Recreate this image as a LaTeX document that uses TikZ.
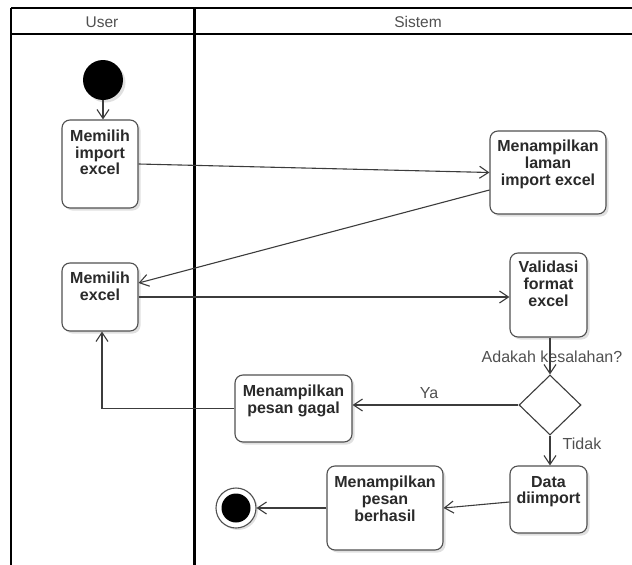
\documentclass[tikz,border=0pt]{standalone}
\usepackage{fontspec}
\setmainfont{Liberation Sans}
\usetikzlibrary{arrows.meta,shapes.geometric,shadows}
\definecolor{ln}{HTML}{3C3C3C}
\definecolor{bx}{HTML}{505050}
\definecolor{txt}{HTML}{2A2A2A}
\definecolor{lbl}{HTML}{505050}
\begin{document}
\begin{tikzpicture}[x=1pt,y=-1pt,
  frame/.style={draw=black,line width=2.4pt},
  lane/.style={font=\fontsize{15.5}{16.5}\selectfont,text=lbl,inner sep=0pt},
  actbox/.style={draw=bx,line width=1.1pt,rounded corners=8pt,fill=white,inner sep=0pt,
    drop shadow={shadow xshift=2.5pt,shadow yshift=-2.5pt,opacity=0.12,fill=black}},
  acttext/.style={font=\fontsize{16}{16.8}\selectfont\bfseries,text=txt,align=center,inner sep=0pt,anchor=north},
  guard/.style={font=\fontsize{16}{17}\selectfont,text=lbl,inner sep=0pt},
  arr/.style={draw=ln,line width=1.1pt,-{Straight Barb[length=9pt,width=12pt]}}
]
\useasboundingbox (0,0) rectangle (632,565);
% frame
\draw[frame] (11,8) -- (632,8);
\draw[draw=black,line width=2pt] (11,34) -- (632,34);
\draw[draw=black,line width=2pt] (11,8) -- (11,565);
\draw[draw=black,line width=3pt] (194,8) -- (194,565);
\node[lane] (hUser) at (102,22) {User};
\node[lane] (hSis) at (418,22) {Sistem};

% start
\node[circle,fill=black,minimum size=40pt,inner sep=0pt,
  drop shadow={shadow xshift=2.5pt,shadow yshift=-2.5pt,opacity=0.12,fill=black}] (start) at (103,80) {};

% activities
\node[actbox,minimum width=76pt,minimum height=88pt] (mie) at (100,164) {};
\node[acttext] (mieT) at ([yshift=-10pt]mie.north) {Memilih\\import\\excel};

\node[actbox,minimum width=116pt,minimum height=83pt] (laman) at (548,172.5) {};
\node[acttext] (lamanT) at ([yshift=-9.5pt]laman.north) {Menampilkan\\laman\\import excel};

\node[actbox,minimum width=76pt,minimum height=68pt] (me) at (100,297) {};
\node[acttext] (meT) at ([yshift=-9.5pt]me.north) {Memilih\\excel};

\node[actbox,minimum width=77pt,minimum height=84pt] (val) at (548.5,295) {};
\node[acttext] (valT) at ([yshift=-8.5pt]val.north) {Validasi\\format\\excel};

\node[draw=ln,line width=1.1pt,diamond,minimum width=62pt,minimum height=60pt,inner sep=0pt,fill=white] (dia) at (550,405) {};

\node[actbox,minimum width=117pt,minimum height=67pt] (gagal) at (293.5,408.5) {};
\node[acttext] (gagalT) at ([yshift=-10.5pt]gagal.north) {Menampilkan\\pesan gagal};

\node[actbox,minimum width=77pt,minimum height=67pt] (data) at (548.5,499.5) {};
\node[acttext] (dataT) at ([yshift=-10.5pt]data.north) {Data\\diimport};

\node[actbox,minimum width=116pt,minimum height=84pt] (berhasil) at (385,508) {};
\node[acttext] (berhasilT) at ([yshift=-10.5pt]berhasil.north) {Menampilkan\\pesan\\berhasil};

% end
\node[circle,draw=bx,line width=1.1pt,fill=white,minimum size=40pt,inner sep=0pt,
  drop shadow={shadow xshift=2pt,shadow yshift=-2pt,opacity=0.12,fill=black}] (end) at (236,508) {};
\node[circle,fill=black,minimum size=29pt,inner sep=0pt] (endIn) at (end.center) {};

% guard labels
\node[guard] (gAda) at (552,357) {Adakah kesalahan?};
\node[guard] (gYa) at (429,393) {Ya};
\node[guard] (gTidak) at (582,444) {Tidak};

% connectors
\draw[arr] (start.south) -- (start.south |- mie.north);
\draw[arr] (mie.east) -- (laman.west);
\draw[arr] ([yshift=-17.5pt]laman.west) -- ([yshift=14pt]me.east);
\draw[arr] (me.east) -- (me.east -| val.west);
\draw[arr] (dia.north |- val.south) -- (dia.north);
\draw[arr] (dia.west) -- (dia.west -| gagal.east);
\draw[arr] (gagal.west) -| ([xshift=2pt]me.south);
\draw[arr] (dia.south) -- (dia.south |- data.north);
\draw[arr] ([yshift=-2.5pt]data.west) -- (berhasil.east);
\draw[arr] (berhasil.west) -- (end.east);
\end{tikzpicture}
\end{document}
